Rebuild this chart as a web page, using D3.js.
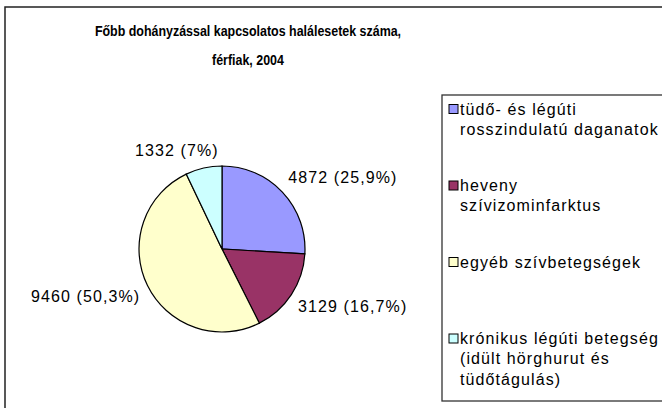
<!DOCTYPE html>
<html>
<head>
<meta charset="utf-8">
<script src="https://cdn.jsdelivr.net/npm/d3@7"></script>
<style>
  body { margin: 0; background: #fff; }
  text { font-family: "Liberation Sans", Arial, sans-serif; fill: #000; }
</style>
</head>
<body>
<script>
var w = 662;
var h = 408;

// data
var categories = [
    ["tüdő- és légúti", "rosszindulatú daganatok"],
    ["heveny", "szívizominfarktus"],
    ["egyéb szívbetegségek"],
    ["krónikus légúti betegség", "(idült hörghurut és", "tüdőtágulás)"]
];
var deaths = [4872, 3129, 9460, 1332];
var percents = [25.9, 16.7, 50.3, 7];
var colors = ["#9999FF", "#993366", "#FFFFCC", "#CCFFFF"];
var titleLines = ["Főbb dohányzással kapcsolatos halálesetek száma,", "férfiak, 2004"];

var svg = d3.select("body")
    .append("svg")
    .attr("width", w)
    .attr("height", h);

// chart frame (runs off the right and bottom edges)
svg.append("rect")
    .attr("x", 5)
    .attr("y", 7)
    .attr("width", 700)
    .attr("height", 450)
    .attr("fill", "#fff")
    .attr("stroke", "#222")
    .attr("stroke-width", 1.5);

// title, condensed like the original
var titleX = 248;
svg.selectAll(".title")
    .data(titleLines)
    .enter()
    .append("text")
    .attr("class", "title")
    .attr("transform", function (d, i) {
        return "translate(" + titleX + "," + (35.5 + i * 29.5) + ") scale(0.83,1)";
    })
    .attr("text-anchor", "middle")
    .style("font-size", "15px")
    .style("font-weight", "bold")
    .text(function (d) { return d; });

// pie
var cx = 222, cy = 249, radius = 83;

var pie = d3.pie().sort(null);
var arc = d3.arc().innerRadius(0).outerRadius(radius);
var arcs = pie(deaths);

var g = svg.append("g")
    .attr("transform", "translate(" + cx + "," + cy + ")");

g.selectAll("path")
    .data(arcs)
    .enter()
    .append("path")
    .attr("d", arc)
    .attr("fill", function (d, i) { return colors[i]; })
    .attr("stroke", "#000")
    .attr("stroke-width", 1.2);

function fmtPct(v) {
    return (Number.isInteger(v) ? String(v) : v.toFixed(1).replace(".", ",")) + "%";
}

// data labels: the box corner nearest the pie sits on the slice's middle ray
var labelR = radius + 8;
var labels = g.selectAll(".slice-label")
    .data(arcs)
    .enter()
    .append("text")
    .attr("class", "slice-label")
    .attr("text-anchor", "middle")
    .style("font-size", "16px")
    .style("letter-spacing", "1.1px")
    .text(function (d, i) { return d.value + " (" + fmtPct(percents[i]) + ")"; });

labels.each(function (d) {
    var mid = (d.startAngle + d.endAngle) / 2;
    var dx = Math.sin(mid), dy = -Math.cos(mid);
    var tw = this.getComputedTextLength();
    var th = 17;
    var kx = Math.min(1, Math.abs(dx) * 2.7) * Math.sign(dx);
    var ky = Math.min(1, Math.abs(dy) * 2.7) * Math.sign(dy);
    var bx = dx * labelR + kx * tw / 2;
    var by = dy * labelR + ky * th / 2;
    d3.select(this)
        .attr("x", bx)
        .attr("y", by + 4.5);
});

// legend
var legendX = 442, legendTop = 95, legendBottom = 401;
svg.append("rect")
    .attr("x", legendX)
    .attr("y", legendTop)
    .attr("width", 300)
    .attr("height", legendBottom - legendTop)
    .attr("fill", "#fff")
    .attr("stroke", "#333")
    .attr("stroke-width", 1.3);

var legendY = d3.scaleBand()
    .domain(d3.range(categories.length))
    .range([legendTop, legendBottom]);

var items = svg.selectAll(".legend-item")
    .data(categories)
    .enter()
    .append("g")
    .attr("class", "legend-item")
    .attr("transform", function (d, i) {
        return "translate(" + legendX + "," + (legendY(i) + 19.5) + ")";
    });

items.append("rect")
    .attr("x", 7)
    .attr("y", -10)
    .attr("width", 9)
    .attr("height", 9)
    .attr("fill", function (d, i) { return colors[i]; })
    .attr("stroke", "#000")
    .attr("stroke-width", 1);

items.append("text")
    .style("font-size", "16px")
    .style("letter-spacing", "1.1px")
    .selectAll("tspan")
    .data(function (d) { return d; })
    .enter()
    .append("tspan")
    .attr("x", 18)
    .attr("y", function (d, i) { return i * 20.3; })
    .text(function (d) { return d; });
</script>
</body>
</html>
